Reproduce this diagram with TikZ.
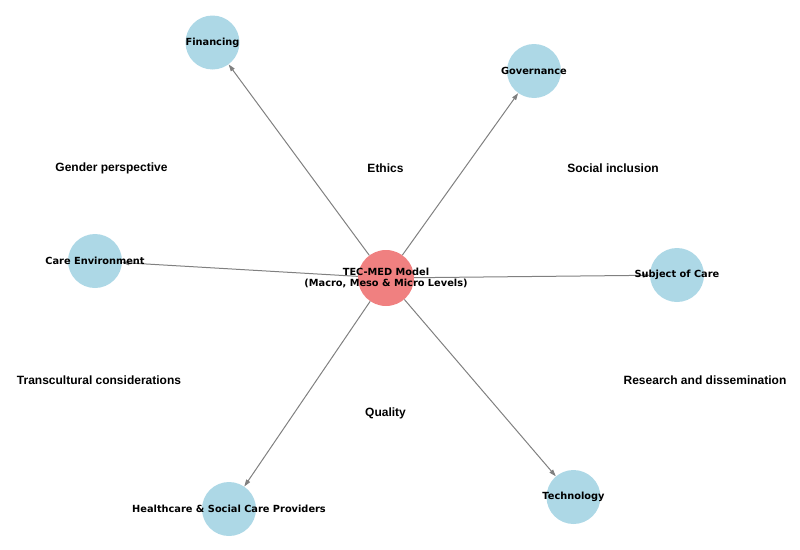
\documentclass[tikz,border=0pt]{standalone}
\usepackage{fontspec}
\setmainfont{DejaVu Sans}
\newfontfamily\lblfont{Liberation Sans}
\usetikzlibrary{arrows.meta}
\definecolor{nodeblue}{HTML}{ADD8E6}
\definecolor{corecoral}{HTML}{F08080}
\definecolor{edgegray}{HTML}{808080}
\begin{document}
\begin{tikzpicture}[x=1pt,y=-1pt,
  bubble/.style={circle,fill=nodeblue,draw=none,minimum size=54pt,inner sep=0pt},
  corebubble/.style={circle,fill=corecoral,draw=none,minimum size=56pt,inner sep=0pt},
  nodetext/.style={font=\bfseries\fontsize{9.8}{11}\selectfont,inner sep=0pt,align=center},
  themetext/.style={font=\lblfont\bfseries\fontsize{12}{14}\selectfont,inner sep=0pt},
  link/.style={draw=edgegray,line width=1pt,-{Triangle[length=7pt,width=4.5pt]}}
]
\useasboundingbox (0,0) rectangle (800,549);
% circles
\node[corebubble] (c) at (386,278) {};
\node[bubble] (fin) at (212.5,42.5) {};
\node[bubble] (gov) at (534,71) {};
\node[bubble] (env) at (95,261) {};
\node[bubble] (sub) at (677,275) {};
\node[bubble] (hsp) at (229,509) {};
\node[bubble] (tec) at (573.5,497) {};
% connectors
\draw[link] (c) -- (fin);
\draw[link] (c) -- (gov);
\draw[link] (c) -- (env);
\draw[link] (c) -- (sub);
\draw[link] (c) -- (hsp);
\draw[link] (c) -- (tec);
% node labels
\node[nodetext] (ct) at (386,278) {TEC-MED Model\\(Macro, Meso \& Micro Levels)};
\node[nodetext] (fint) at (212.5,42.5) {Financing};
\node[nodetext] (govt) at (534,71) {Governance};
\node[nodetext] (envt) at (95,261) {Care Environment};
\node[nodetext] (subt) at (677,275) {Subject of Care};
\node[nodetext] (hspt) at (229,509) {Healthcare \& Social Care Providers};
\node[nodetext] (tect) at (573.5,497) {Technology};
% theme labels
\node[themetext] (t1) at (111.5,168) {Gender perspective};
\node[themetext] (t2) at (385.5,168) {Ethics};
\node[themetext] (t3) at (613,168) {Social inclusion};
\node[themetext] (t4) at (99,380) {Transcultural considerations};
\node[themetext] (t5) at (705,380) {Research and dissemination};
\node[themetext] (t6) at (385.5,413) {Quality};
\end{tikzpicture}
\end{document}
